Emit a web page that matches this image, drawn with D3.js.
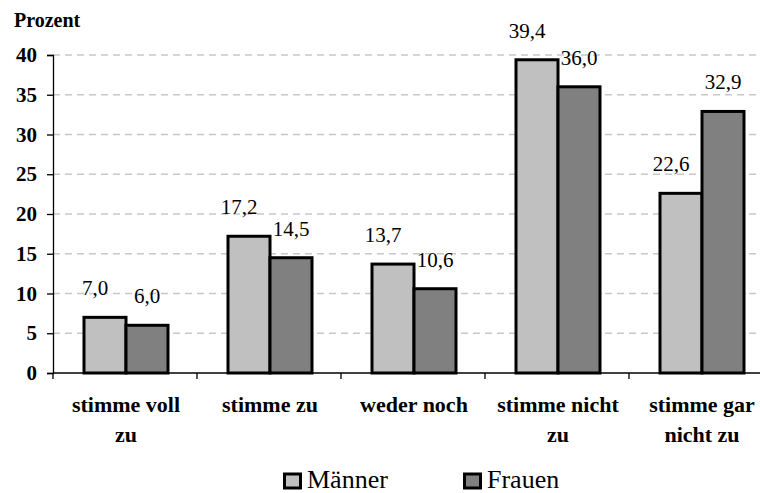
<!DOCTYPE html>
<html>
<head>
<meta charset="utf-8">
<script src="https://cdn.jsdelivr.net/npm/d3@7/dist/d3.min.js"></script>
<style>
  html, body { margin: 0; padding: 0; background: #fff; }
  svg { display: block; }
</style>
</head>
<body>
<div id="chart"></div>
<script>
const categories= [['stimme voll', 'zu'], ['stimme zu'], ['weder noch'], ['stimme nicht', 'zu'], ['stimme gar', 'nicht zu']];
const series= ['Männer', 'Frauen'];
const maenner= [7.0, 17.2, 13.7, 39.4, 22.6];
const frauen= [6.0, 14.5, 10.6, 36.0, 32.9];
const yTicks= [0, 5, 10, 15, 20, 25, 30, 35, 40];
const colors= ['#c0c0c0', '#808080'];

const W= 760, H= 493;
const mLeft= 53, mTop= 55, mBottom= 373, catW= 144;
const FONT= "'Liberation Serif', 'Times New Roman', serif";
const fmt= v => v.toFixed(1).replace('.', ',');

const svg= d3.select('#chart').append('svg')
  .attr('width', W).attr('height', H)
  .style('font-family', FONT);

const y= d3.scaleLinear().domain([0, 40]).range([mBottom, mTop]);
const x0= d3.scaleBand().domain(d3.range(categories.length))
  .range([mLeft, mLeft+catW*categories.length]).paddingInner(0).paddingOuter(0);
const x1= d3.scaleBand().domain(series).range([31, 31+84]);

// gridlines
svg.append('g').selectAll('line')
  .data(yTicks.filter(t => t > 0))
  .join('line')
  .attr('x1', mLeft).attr('x2', W)
  .attr('y1', d => y(d)).attr('y2', d => y(d))
  .attr('stroke', '#c8c8c8').attr('stroke-width', 1.3)
  .attr('stroke-dasharray', '7,5');

// y axis
const yAxis= svg.append('g').attr('transform', `translate(${mLeft},0)`)
  .call(d3.axisLeft(y).tickValues(yTicks).tickSize(6).tickPadding(10));
yAxis.select('.domain').attr('stroke', '#000').attr('stroke-width', 1.3);
yAxis.selectAll('.tick line').attr('stroke', '#000').attr('stroke-width', 1.3);
yAxis.selectAll('.tick text')
  .style('font-family', FONT)
  .attr('font-size', 21).attr('font-weight', 'bold').attr('fill', '#000');

svg.append('text')
  .attr('x', 14).attr('y', 27)
  .style('font-family', FONT)
  .attr('font-size', 20).attr('font-weight', 'bold')
  .text('Prozent');

// x axis
svg.append('line')
  .attr('x1', mLeft).attr('x2', W)
  .attr('y1', mBottom).attr('y2', mBottom)
  .attr('stroke', '#000').attr('stroke-width', 1.3);
svg.append('g').selectAll('line')
  .data(d3.range(categories.length+1))
  .join('line')
  .attr('x1', d => mLeft+d*catW).attr('x2', d => mLeft+d*catW)
  .attr('y1', mBottom).attr('y2', mBottom+6)
  .attr('stroke', '#000').attr('stroke-width', 1.3);

// bars
const rows= categories.map((c, i) => [maenner[i], frauen[i]]);
const groups= svg.append('g').selectAll('g')
  .data(rows)
  .join('g')
  .attr('transform', (d, i) => `translate(${x0(i)},0)`);

groups.selectAll('rect')
  .data(d => d.map((v, j) => ({ key: series[j], v, j })))
  .join('rect')
  .attr('x', d => x1(d.key)).attr('width', x1.bandwidth())
  .attr('y', d => y(d.v)).attr('height', d => mBottom-y(d.v))
  .attr('fill', d => colors[d.j])
  .attr('stroke', '#000').attr('stroke-width', 3);

groups.selectAll('text.val')
  .data(d => d.map((v, j) => ({ key: series[j], v, j })))
  .join('text')
  .attr('class', 'val')
  .attr('x', d => x1(d.key)+x1.bandwidth()/2-(d.j === 0 ? 10 : 0))
  .attr('y', d => y(d.v)-22)
  .attr('text-anchor', 'middle')
  .style('font-family', FONT)
  .attr('font-size', 21)
  .text(d => fmt(d.v));

// category labels
svg.append('g').selectAll('text')
  .data(categories)
  .join('text')
  .attr('x', (d, i) => x0(i)+catW/2+1)
  .attr('y', 412)
  .attr('text-anchor', 'middle')
  .style('font-family', FONT)
  .attr('font-size', 22).attr('font-weight', 'bold')
  .each(function(d) {
    d3.select(this).selectAll('tspan')
      .data(d)
      .join('tspan')
      .attr('x', d3.select(this).attr('x'))
      .attr('dy', (t, k) => k === 0 ? 0 : 30)
      .text(t => t);
  });

// legend
const legX= [283, 463];
const leg= svg.append('g').selectAll('g')
  .data(series)
  .join('g')
  .attr('transform', (d, i) => `translate(${legX[i]},473)`);
leg.append('rect')
  .attr('x', 1.5).attr('y', 1)
  .attr('width', 16).attr('height', 14)
  .attr('fill', (d, i) => colors[i])
  .attr('stroke', '#000').attr('stroke-width', 3);
leg.append('text')
  .attr('x', 24).attr('y', 15)
  .style('font-family', FONT)
  .attr('font-size', 26)
  .text(d => d);
</script>
</body>
</html>
